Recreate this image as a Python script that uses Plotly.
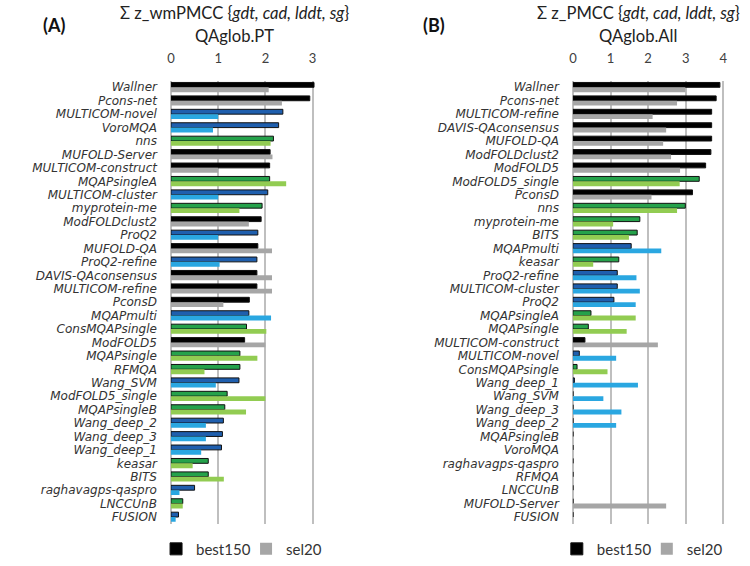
import plotly.graph_objects as go

# ---------------- data ----------------
methods_A = ["Wallner", "Pcons-net", "MULTICOM-novel", "VoroMQA", "nns", "MUFOLD-Server",
             "MULTICOM-construct", "MQAPsingleA", "MULTICOM-cluster", "myprotein-me",
             "ModFOLDclust2", "ProQ2", "MUFOLD-QA", "ProQ2-refine", "DAVIS-QAconsensus",
             "MULTICOM-refine", "PconsD", "MQAPmulti", "ConsMQAPsingle", "ModFOLD5",
             "MQAPsingle", "RFMQA", "Wang_SVM", "ModFOLD5_single", "MQAPsingleB",
             "Wang_deep_2", "Wang_deep_3", "Wang_deep_1", "keasar", "BITS",
             "raghavagps-qaspro", "LNCCUnB", "FUSION"]
best150_A = [3.03, 2.94, 2.37, 2.28, 2.17, 2.10, 2.09, 2.09, 2.05, 1.93,
             1.91, 1.84, 1.84, 1.82, 1.82, 1.82, 1.66, 1.65, 1.60, 1.56,
             1.46, 1.46, 1.44, 1.19, 1.14, 1.11, 1.09, 1.07, 0.79, 0.79,
             0.50, 0.25, 0.16]
sel20_A = [2.07, 2.35, 1.00, 0.89, 2.11, 2.15, 1.00, 2.44, 1.00, 1.45,
           1.65, 1.00, 2.14, 1.03, 2.14, 2.14, 1.11, 2.12, 2.02, 2.00,
           1.83, 0.71, 0.95, 2.00, 1.59, 0.74, 0.74, 0.64, 0.46, 1.12,
           0.18, 0.25, 0.10]

methods_B = ["Wallner", "Pcons-net", "MULTICOM-refine", "DAVIS-QAconsensus", "MUFOLD-QA",
             "ModFOLDclust2", "ModFOLD5", "ModFOLD5_single", "PconsD", "nns",
             "myprotein-me", "BITS", "MQAPmulti", "keasar", "ProQ2-refine",
             "MULTICOM-cluster", "ProQ2", "MQAPsingleA", "MQAPsingle", "MULTICOM-construct",
             "MULTICOM-novel", "ConsMQAPsingle", "Wang_deep_1", "Wang_SVM", "Wang_deep_3",
             "Wang_deep_2", "MQAPsingleB", "VoroMQA", "raghavagps-qaspro", "RFMQA",
             "LNCCUnB", "MUFOLD-Server", "FUSION"]
best150_B = [3.91, 3.81, 3.69, 3.69, 3.69, 3.67, 3.53, 3.36, 3.18, 2.99,
             1.78, 1.71, 1.55, 1.22, 1.18, 1.18, 1.09, 0.48, 0.41, 0.32,
             0.17, 0.11, 0.04, 0.0, 0.0, 0.0, 0.0, 0.0, 0.0, 0.0,
             0.0, 0.0, 0.0]
sel20_B = [2.99, 2.77, 2.12, 2.48, 2.40, 2.61, 2.85, 2.84, 2.09, 2.77,
           1.07, 1.49, 2.35, 0.54, 1.69, 1.78, 1.67, 1.67, 1.43, 2.26,
           1.15, 0.92, 1.73, 0.81, 1.29, 1.15, 0.0, 0.0, 0.0, 0.0,
           0.0, 2.48, 0.0]

consensus = ["Wallner", "Pcons-net", "MUFOLD-Server", "MULTICOM-construct", "ModFOLDclust2",
             "MUFOLD-QA", "DAVIS-QAconsensus", "MULTICOM-refine", "PconsD", "ModFOLD5"]
quasi = ["MULTICOM-novel", "VoroMQA", "MULTICOM-cluster", "ProQ2", "ProQ2-refine", "MQAPmulti",
         "Wang_SVM", "Wang_deep_2", "Wang_deep_3", "Wang_deep_1", "raghavagps-qaspro", "FUSION"]

# ---------------- style ----------------
DARK = {"c": "#000000", "q": "#1f5fae", "s": "#25a24b"}
LIGHT = {"c": "#a6a6a6", "q": "#2aa7e1", "s": "#92cc52"}


def kind(m):
    if m in consensus:
        return "c"
    if m in quasi:
        return "q"
    return "s"


W, H = 750, 566
TOP, BOT = 81.3, 528.4
PX_A, X0_A, MAX_A = 47.6, 168.3, 3.06
PX_B, X0_B, MAX_B = 37.9, 573.5, 4.06

fig = go.Figure()


def add_panel(methods, best, sel, xa, ya, legend):
    dark = [DARK[kind(m)] for m in methods]
    light = [LIGHT[kind(m)] for m in methods]
    fig.add_trace(go.Bar(y=methods, x=best, orientation="h", name="best150",
                         marker=dict(color=dark, line=dict(color="#111111", width=1)),
                         xaxis=xa, yaxis=ya, legend=legend))
    fig.add_trace(go.Bar(y=methods, x=sel, orientation="h", name="sel20",
                         marker=dict(color=light, line=dict(width=0)),
                         xaxis=xa, yaxis=ya, legend=legend))


add_panel(methods_A, best150_A, sel20_A, "x", "y", "legend")
add_panel(methods_B, best150_B, sel20_B, "x2", "y2", "legend2")

ydom = [1 - BOT / H, 1 - TOP / H]
xcommon = dict(side="top", showgrid=True, gridcolor="#bfbfbf", gridwidth=1.5,
               zeroline=True, zerolinecolor="#bfbfbf", zerolinewidth=1.5,
               showline=False, ticks="", dtick=1,
               tickfont=dict(family="Lato", size=13, color="#404040"),
               ticklabelstandoff=14, fixedrange=True)
ycommon = dict(autorange="reversed", showgrid=False, ticks="", showline=False,
               tickmode="linear", dtick=1,
               tickfont=dict(family="DejaVu Sans", size=12, color="#333333"),
               ticklabelstandoff=13, fixedrange=True)

lfont = dict(family="Lato", size=15, color="#333333")
fig.update_layout(
    width=W, height=H,
    margin=dict(l=0, r=0, t=0, b=0),
    paper_bgcolor="white", plot_bgcolor="white",
    barmode="group", bargap=0.28, bargroupgap=0.0,
    xaxis=dict(domain=[X0_A / W, (X0_A + PX_A * MAX_A) / W], range=[0, MAX_A],
               anchor="y", **xcommon),
    yaxis=dict(domain=ydom, anchor="x", **ycommon),
    xaxis2=dict(domain=[X0_B / W, (X0_B + PX_B * MAX_B) / W], range=[0, MAX_B],
                anchor="y2", **xcommon),
    yaxis2=dict(domain=ydom, anchor="x2", **ycommon),
    legend=dict(orientation="h", x=244 / W, y=1 - 554 / H, xanchor="center", yanchor="middle",
                font=lfont, itemwidth=30, traceorder="normal", bgcolor="rgba(0,0,0,0)",
                entrywidth=45),
    legend2=dict(orientation="h", x=648 / W, y=1 - 554 / H, xanchor="center", yanchor="middle",
                 font=lfont, itemwidth=30, traceorder="normal", bgcolor="rgba(0,0,0,0)",
                 entrywidth=45),
    showlegend=True,
)

tfont = dict(family="Lato", size=16.6, color="#222222")
fig.add_annotation(x=232 / W, y=1 - 13 / H, xref="paper", yref="paper", showarrow=False,
                   text="Σ z_wmPMCC {<i>gdt, cad, lddt, sg</i>}", font=tfont,
                   xanchor="center", yanchor="middle")
fig.add_annotation(x=232 / W, y=1 - 36 / H, xref="paper", yref="paper", showarrow=False,
                   text="QAglob.PT", font=tfont, xanchor="center", yanchor="middle")
fig.add_annotation(x=640 / W, y=1 - 13 / H, xref="paper", yref="paper", showarrow=False,
                   text="Σ z_PMCC {<i>gdt, cad, lddt, sg</i>}", font=tfont,
                   xanchor="center", yanchor="middle")
fig.add_annotation(x=639 / W, y=1 - 36 / H, xref="paper", yref="paper", showarrow=False,
                   text="QAglob.All", font=tfont, xanchor="center", yanchor="middle")
pfont = dict(family="Lato", size=18, color="#111111")
fig.add_annotation(x=50 / W, y=1 - 25 / H, xref="paper", yref="paper", showarrow=False,
                   text="<b>(A)</b>", font=pfont, xanchor="center", yanchor="middle")
fig.add_annotation(x=433 / W, y=1 - 25 / H, xref="paper", yref="paper", showarrow=False,
                   text="<b>(B)</b>", font=pfont, xanchor="center", yanchor="middle")

# italic method names
fig.update_yaxes(tickprefix="<i>", ticksuffix="</i>")

fig.write_html("out.html", config={"displayModeBar": False},
               post_script="document.body.style.margin='0';document.body.style.overflow='hidden';")
